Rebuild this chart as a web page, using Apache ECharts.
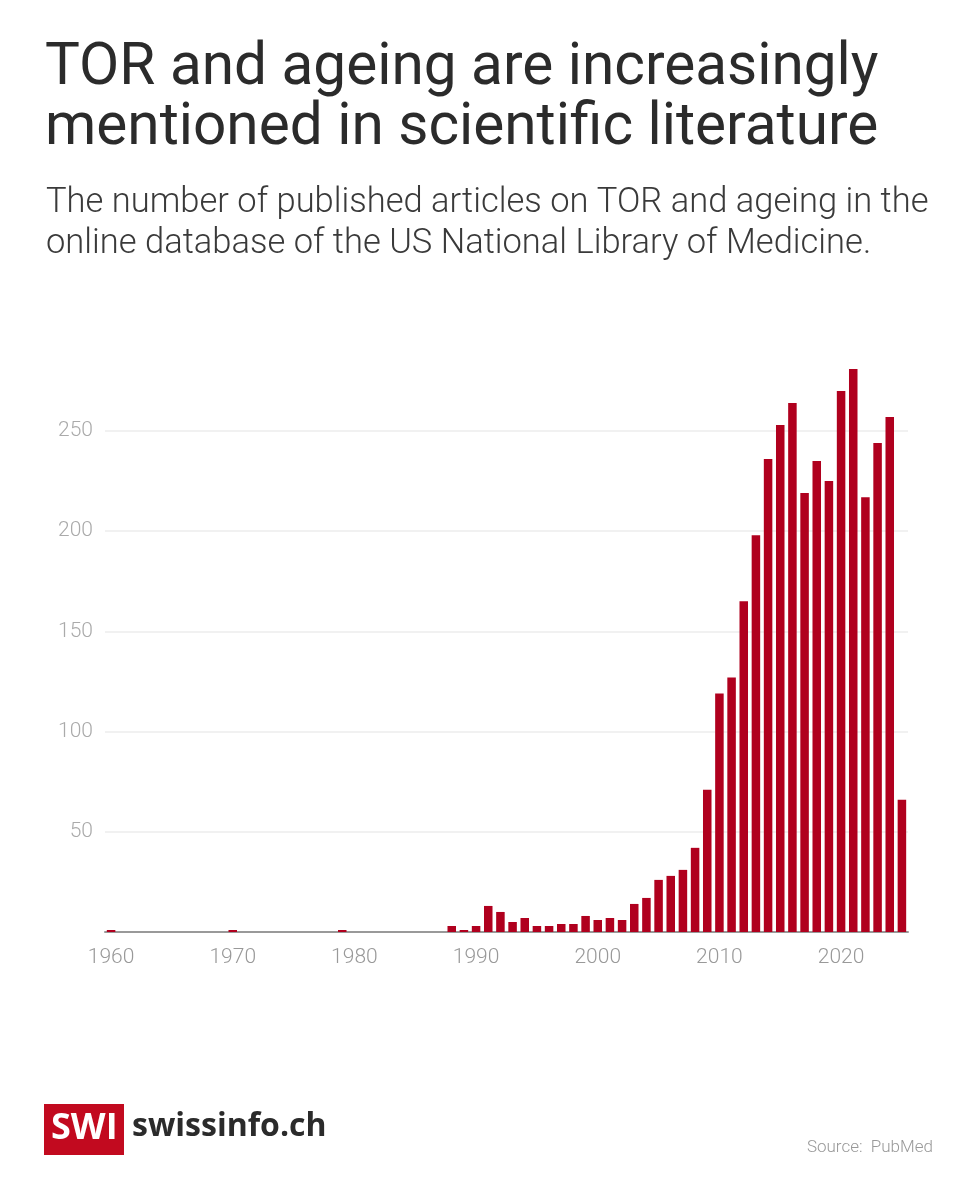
<!DOCTYPE html>
<html>
<head>
<meta charset="utf-8">
<script src="https://cdn.jsdelivr.net/npm/echarts@6/dist/echarts.min.js"></script>
<style>
  html, body { margin: 0; padding: 0; background: #fff; }
  #main { width: 960px; height: 1200px; }
</style>
</head>
<body>
<div id="main"></div>
<script>
// years 1960..2025
var years = [];
for (var y = 1960; y <= 2025; y++) years.push(String(y));

// articles per year
var counts = [
  1, 0, 0, 0, 0, 0, 0, 0, 0, 0,        // 1960-1969
  1, 0, 0, 0, 0, 0, 0, 0, 0, 1,        // 1970-1979
  0, 0, 0, 0, 0, 0, 0, 0, 3, 1,        // 1980-1989
  3, 13, 10, 5, 7, 3, 3, 4, 4, 8,      // 1990-1999
  6, 7, 6, 14, 17, 26, 28, 31, 42, 71, // 2000-2009
  119, 127, 165, 198, 236, 253, 264, 219, 235, 225, // 2010-2019
  270, 281, 217, 244, 257, 66          // 2020-2025
];

var titleText = 'TOR and ageing are increasingly\nmentioned in scientific literature';
var subText = 'The number of published articles on TOR and ageing in the\nonline database of the US National Library of Medicine.';
var sourceText = 'Source:  PubMed';

var myChart = echarts.init(document.getElementById('main'));

var option = {
  backgroundColor: '#fff',
  animation: false,
  title: [
    {
      text: titleText,
      left: 40,
      top: 34,
      textStyle: {
        fontFamily: 'Roboto',
        fontWeight: 400,
        fontSize: 58.5,
        lineHeight: 60,
        color: '#2b2b2b'
      }
    },
    {
      text: subText,
      left: 41,
      top: 178,
      textStyle: {
        fontFamily: 'Roboto',
        fontWeight: 300,
        fontSize: 34.5,
        lineHeight: 41,
        color: '#3a3a3a'
      }
    },
    {
      text: sourceText,
      right: 22,
      top: 1134,
      textStyle: {
        fontFamily: 'Roboto',
        fontWeight: 300,
        fontSize: 17,
        color: '#999'
      }
    }
  ],
  grid: {
    left: 105,
    right: 52,
    top: 431,
    bottom: 268
  },
  xAxis: {
    type: 'category',
    data: years,
    axisLine: { lineStyle: { color: '#999', width: 2 } },
    axisTick: { show: false },
    axisLabel: {
      interval: function (idx, val) { return Number(val) % 10 === 0; },
      color: '#999',
      fontFamily: 'Roboto',
      fontWeight: 300,
      fontSize: 21,
      margin: 15
    }
  },
  yAxis: {
    type: 'value',
    min: 0,
    max: 250,
    interval: 50,
    axisLine: { show: false },
    axisTick: { show: false },
    axisLabel: {
      color: '#aaa',
      fontFamily: 'Roboto',
      fontWeight: 300,
      fontSize: 21,
      margin: 12,
      formatter: function (v) { return v === 0 ? '' : v; }
    },
    splitLine: { lineStyle: { color: '#ececec', width: 1.5 } }
  },
  series: [
    {
      type: 'bar',
      data: counts,
      clip: false,
      barCategoryGap: '30%',
      itemStyle: { color: '#b0001e' }
    }
  ],
  graphic: [
    {
      type: 'rect',
      left: 44,
      top: 1104,
      shape: { width: 80, height: 51 },
      style: { fill: '#c20a1f' }
    },
    {
      type: 'text',
      left: 51,
      top: 1111,
      style: {
        text: 'SWI',
        fill: '#fff',
        font: 'bold 36px "Open Sans"'
      }
    },
    {
      type: 'text',
      left: 132,
      top: 1111,
      style: {
        text: 'swissinfo.ch',
        fill: '#2b2b2b',
        font: 'bold 32px "Open Sans"'
      }
    }
  ]
};

myChart.setOption(option);
</script>
</body>
</html>
